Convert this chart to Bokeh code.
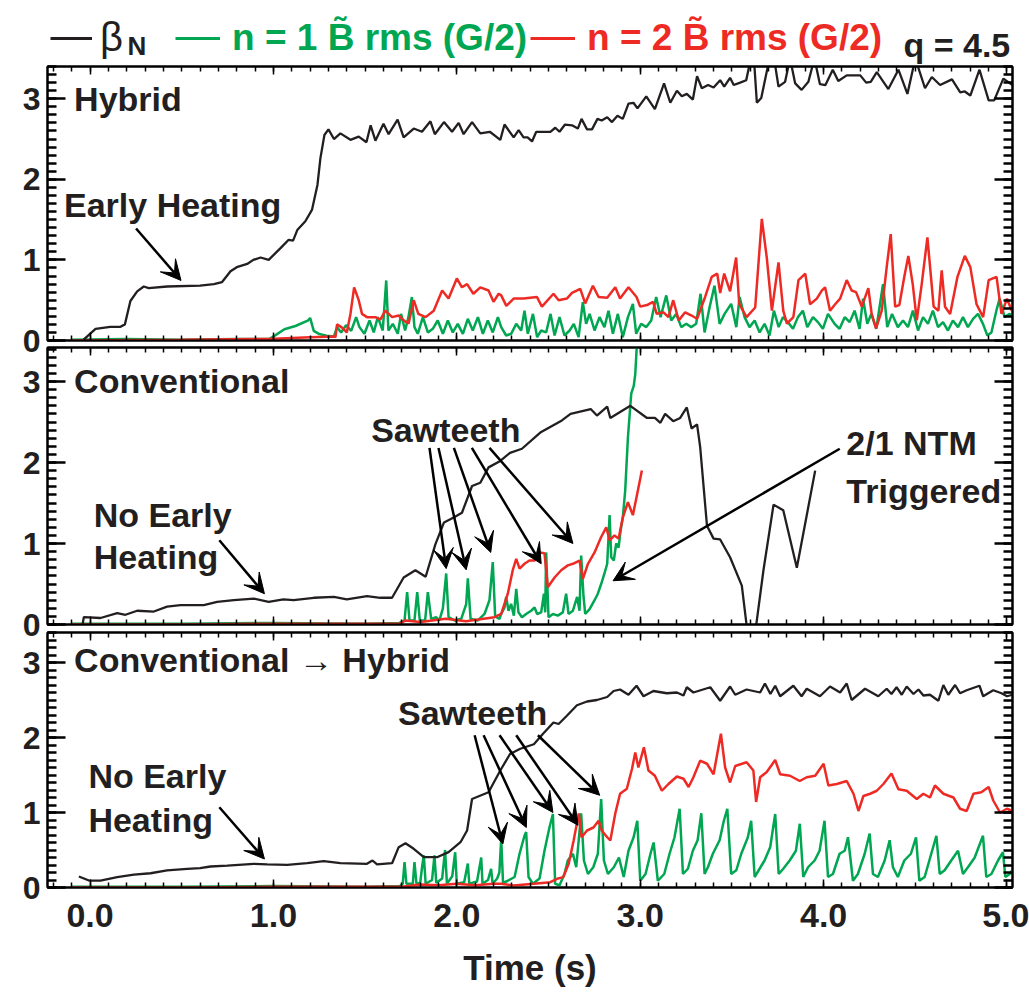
from bokeh.plotting import figure
from bokeh.layouts import column
from bokeh.models import (Range1d, LinearAxis, SingleIntervalTicker, NumeralTickFormatter,
                          CustomJSTickFormatter, Label, Arrow, VeeHead, Legend, LegendItem)
from bokeh.embed import file_html
from bokeh.resources import INLINE

FONT = "Liberation Sans"
BLACK = "#231F20"
GREEN = "#00A651"
RED = "#EE2A24"
NAN = float("nan")

# ---------------- Panel 1 : Hybrid ----------------
hyb_beta_t = [-0.035, 0.03, 0.11, 0.166, 0.19, 0.22, 0.257, 0.293, 0.32, 0.42, 0.60, 0.675, 0.72, 0.766,
              0.80, 0.857, 0.89, 0.93, 0.974, 1.04, 1.083, 1.107, 1.13, 1.174, 1.21, 1.24, 1.256, 1.278,
              1.30, 1.33, 1.365, 1.42, 1.465, 1.507, 1.53, 1.556, 1.60, 1.628, 1.677, 1.71, 1.765, 1.81,
              1.856, 1.88, 1.93, 1.974, 2.01, 2.037, 2.083, 2.128, 2.18,
              2.237, 2.26, 2.31, 2.337, 2.364, 2.386, 2.41, 2.433, 2.51, 2.537, 2.56, 2.59, 2.628, 2.66,
              2.68, 2.71, 2.737, 2.767, 2.79, 2.82, 2.846, 2.876, 2.905, 2.936, 2.963, 2.985, 3.033, 3.08,
              3.13, 3.164, 3.20, 3.227, 3.254, 3.287, 3.31, 3.336, 3.37, 3.40, 3.436, 3.458, 3.49, 3.51,
              3.545, 3.578, 3.603, 3.62, 3.636, 3.66, 3.705, 3.73, 3.754, 3.79, 3.817, 3.845, 3.88, 3.917,
              3.95, 3.98, 4.01, 4.05, 4.08, 4.126, 4.2, 4.232, 4.257, 4.29, 4.353, 4.408, 4.457, 4.50,
              4.553, 4.59, 4.635, 4.70, 4.745, 4.77, 4.80, 4.85, 4.90, 4.93, 4.98, 5.03]
hyb_beta = [0.01, 0.145, 0.17, 0.17, 0.2, 0.49, 0.61, 0.67, 0.65, 0.67, 0.68, 0.70, 0.725, 0.86,
            0.91, 0.95, 1.0, 1.03, 1.0, 1.15, 1.25, 1.24, 1.37, 1.48, 1.62, 1.93, 2.26, 2.55,
            2.62, 2.50, 2.57, 2.49, 2.53, 2.46, 2.67, 2.48, 2.69, 2.56, 2.74, 2.52, 2.63, 2.59,
            2.72, 2.56, 2.71, 2.59, 2.70, 2.56, 2.71, 2.57, 2.59,
            2.49, 2.68, 2.52, 2.61, 2.52, 2.52, 2.47, 2.59, 2.59, 2.64, 2.59, 2.68, 2.67, 2.63,
            2.75, 2.62, 2.62, 2.75, 2.73, 2.77, 2.71, 2.79, 2.75, 2.94, 2.95, 2.88, 3.03, 2.87,
            3.19, 2.95, 3.10, 3.03, 3.06, 2.99, 3.28, 3.13, 3.17, 3.14, 3.23, 3.15, 3.26, 3.17,
            3.20, 3.23, 3.5, 3.5, 2.95, 3.01, 3.5, 3.5, 3.15, 3.21, 3.5, 3.19, 3.11, 3.21,
            3.5, 3.18, 3.17, 3.36, 3.22, 3.29, 3.29, 3.20, 3.21, 3.33, 3.12, 3.36, 3.06, 3.5,
            3.13, 3.27, 3.17, 3.24, 3.08, 3.09, 3.04, 3.36, 2.98, 2.98, 3.25, 3.17]

hyb_n1_t = [-0.10, 0.2, 0.5, 0.8, 0.98, 1.06, 1.12, 1.19, 1.20, 1.22, 1.25, 1.29, 1.33,
            1.347, 1.369, 1.396, 1.424, 1.451, 1.469, 1.496, 1.524, 1.547, 1.569, 1.596, 1.615, 1.627,
            1.651, 1.678, 1.696, 1.718, 1.736, 1.755, 1.769, 1.787, 1.815, 1.842, 1.869, 1.896, 1.924,
            1.951, 1.978, 2.005, 2.033, 2.06, 2.087, 2.115, 2.142, 2.169, 2.196, 2.224,
            2.242, 2.269, 2.296, 2.324, 2.351, 2.369, 2.387, 2.415, 2.438, 2.46, 2.487, 2.511, 2.533,
            2.56, 2.587, 2.615, 2.638, 2.664, 2.687, 2.705, 2.724, 2.751, 2.778, 2.805, 2.827, 2.851,
            2.878, 2.905, 2.933, 2.96, 2.978, 3.005, 3.033, 3.06, 3.087, 3.111, 3.142, 3.169, 3.196,
            3.224, 3.251, 3.278, 3.305, 3.329, 3.351, 3.378, 3.405, 3.433, 3.46, 3.496, 3.524, 3.542,
            3.569, 3.596, 3.624, 3.651, 3.678, 3.705, 3.729, 3.755, 3.778, 3.805, 3.833, 3.86, 3.887,
            3.911, 3.942, 3.969, 3.996, 4.024, 4.06, 4.087, 4.115, 4.142, 4.169, 4.196, 4.215, 4.238,
            4.26, 4.287, 4.324, 4.347, 4.373, 4.405, 4.433, 4.46, 4.487, 4.515, 4.542, 4.569, 4.596,
            4.624, 4.651, 4.678, 4.705, 4.733, 4.76, 4.787, 4.815, 4.842, 4.869, 4.893, 4.915, 4.942,
            4.96, 4.987, 5.015, 5.033]
hyb_n1 = [0.01, 0.02, 0.01, 0.02, 0.02, 0.14, 0.18, 0.25, 0.28, 0.12, 0.08, 0.06, 0.05,
          0.166, 0.10, 0.19, 0.12, 0.29, 0.166, 0.083, 0.248, 0.10, 0.29, 0.124, 0.745, 0.124,
          0.207, 0.083, 0.33, 0.124, 0.29, 0.54, 0.166, 0.083, 0.29, 0.10, 0.145, 0.248, 0.083,
          0.248, 0.10, 0.207, 0.083, 0.269, 0.124, 0.29, 0.083, 0.248, 0.10, 0.29,
          0.166, 0.062, 0.083, 0.207, 0.124, 0.37, 0.083, 0.33, 0.041, 0.124, 0.10, 0.33, 0.062,
          0.29, 0.062, 0.124, 0.207, 0.041, 0.476, 0.207, 0.33, 0.124, 0.29, 0.166, 0.37, 0.083,
          0.33, 0.041, 0.29, 0.455, 0.083, 0.207, 0.166, 0.248, 0.54, 0.29, 0.56, 0.248, 0.33,
          0.166, 0.207, 0.166, 0.207, 0.58, 0.10, 0.41, 0.68, 0.207, 0.33, 0.455, 0.166, 0.54,
          0.29, 0.166, 0.248, 0.10, 0.207, 0.062, 0.37, 0.166, 0.29, 0.228, 0.145, 0.29, 0.37,
          0.166, 0.29, 0.228, 0.145, 0.33, 0.207, 0.145, 0.29, 0.228, 0.37, 0.145, 0.52, 0.207,
          0.33, 0.145, 0.70, 0.166, 0.33, 0.166, 0.248, 0.166, 0.37, 0.124, 0.29, 0.207, 0.37,
          0.166, 0.228, 0.124, 0.248, 0.166, 0.29, 0.166, 0.269, 0.33, 0.207, 0.062, 0.10, 0.37,
          0.52, 0.29, 0.33, 0.29]

hyb_n2_t = [-0.10, 0.5, 0.97, 1.2, 1.33, 1.338, 1.347, 1.374, 1.40, 1.42, 1.44, 1.465, 1.483, 1.51,
            1.556, 1.583, 1.61, 1.647, 1.683, 1.71, 1.737, 1.765, 1.79, 1.83, 1.874, 1.92, 1.955,
            2.0, 2.028, 2.056, 2.09, 2.128, 2.173, 2.20, 2.228,
            2.242, 2.27, 2.31, 2.364, 2.437, 2.464, 2.527, 2.555, 2.60, 2.628, 2.673, 2.70, 2.742,
            2.773, 2.82, 2.864, 2.89, 2.936, 2.98, 3.0, 3.037, 3.07, 3.09, 3.127, 3.154, 3.18, 3.21,
            3.245, 3.28, 3.31, 3.354, 3.39, 3.42, 3.436, 3.458, 3.49, 3.523, 3.54, 3.58, 3.627,
            3.663, 3.69, 3.718, 3.754, 3.78, 3.80, 3.835, 3.863, 3.90, 3.926, 3.963, 3.99, 4.008,
            4.035, 4.063, 4.09, 4.126, 4.153, 4.177, 4.208, 4.244, 4.262, 4.286, 4.317, 4.344,
            4.366, 4.39, 4.413, 4.44, 4.462, 4.486, 4.508, 4.535, 4.566, 4.60, 4.626, 4.644, 4.662,
            4.69, 4.73, 4.77, 4.80, 4.834, 4.87, 4.90, 4.943, 4.97, 5.0, 5.026]
hyb_n2 = [0.0, 0.01, 0.02, 0.04, 0.05, 0.04, 0.2, 0.16, 0.10, 0.33, 0.66, 0.50, 0.33, 0.29,
          0.29, 0.26, 0.37, 0.29, 0.31, 0.25, 0.21, 0.50, 0.33, 0.29, 0.37, 0.62, 0.52,
          0.77, 0.66, 0.70, 0.58, 0.66, 0.62, 0.48, 0.58,
          0.56, 0.43, 0.52, 0.52, 0.54, 0.42, 0.58, 0.50, 0.52, 0.59, 0.64, 0.46, 0.68,
          0.54, 0.53, 0.66, 0.52, 0.66, 0.54, 0.42, 0.44, 0.48, 0.33, 0.35, 0.29, 0.50, 0.25,
          0.35, 0.31, 0.27, 0.54, 0.79, 0.83, 0.59, 0.83, 0.61, 1.03, 0.45, 0.29, 0.41,
          1.51, 1.03, 0.37, 0.97, 0.37, 0.21, 0.29, 0.75, 0.83, 0.45, 0.52, 0.62, 0.66,
          0.37, 0.45, 0.52, 0.75, 0.62, 0.60, 0.42, 0.65, 0.33, 0.15, 0.37, 0.91,
          1.32, 0.42, 0.44, 0.79, 1.05, 0.70, 0.25, 0.70, 1.28, 0.42, 0.37, 0.87, 0.42,
          0.33, 0.79, 1.05, 0.91, 0.45, 0.29, 0.75, 0.79, 0.33, 0.52, 0.37]

# ---------------- Panel 2 : Conventional ----------------
con_beta_t = [-0.04, -0.034, 0.057, 0.148, 0.193, 0.257, 0.348, 0.42, 0.493, 0.62, 0.693, 0.784, 0.893,
              0.974, 1.054, 1.11, 1.22, 1.33, 1.40, 1.51, 1.583, 1.647, 1.71, 1.774, 1.83, 1.883, 1.93,
              1.983, 2.028, 2.083, 2.128, 2.173, 2.237, 2.29, 2.355, 2.455, 2.573, 2.62, 2.73, 2.764,
              2.82, 2.837, 2.946, 3.037, 3.08, 3.11, 3.136, 3.18, 3.218, 3.254, 3.28, 3.31, 3.327,
              3.364, 3.40, 3.436, 3.49, 3.554, 3.585, 3.627, 3.672, 3.727, 3.78, 3.854, 3.954]
con_beta = [0.01, 0.09, 0.08, 0.14, 0.12, 0.17, 0.16, 0.22, 0.24, 0.24, 0.28, 0.30, 0.32,
            0.28, 0.31, 0.30, 0.33, 0.34, 0.31, 0.35, 0.33, 0.33, 0.58, 0.67, 0.59, 0.99, 1.26,
            1.32, 1.38, 1.71, 1.75, 1.94, 2.02, 2.12, 2.17, 2.37, 2.52, 2.60, 2.66, 2.58,
            2.69, 2.55, 2.70, 2.55, 2.55, 2.49, 2.60, 2.51, 2.55, 2.68, 2.42, 2.47, 2.19,
            1.22, 1.06, 1.05, 0.83, 0.48, -0.1, -0.1, 0.67, 1.48, 1.41, 0.70, 1.90]

con_n1_t = [-0.10, 0.5, 1.0, 1.5, 1.687, 1.715, 1.729, 1.742, 1.769, 1.784, 1.798, 1.827, 1.842, 1.86,
            1.887, 1.905, 1.924, 1.942, 1.955, 1.987, 2.024, 2.051, 2.06, 2.075, 2.115, 2.151, 2.178,
            2.196, 2.209, 2.233, 2.242, 2.26, 2.269, 2.282, 2.296, 2.311, 2.324, 2.336, 2.355, 2.378,
            2.405, 2.424, 2.438, 2.46, 2.475, 2.482, 2.487, 2.5, 2.524, 2.551, 2.578, 2.596, 2.609,
            2.633, 2.656, 2.669, 2.678, 2.691, 2.7, 2.724, 2.751, 2.769, 2.787, 2.805, 2.82, 2.833,
            2.842, 2.856, 2.869, 2.882, 2.893, 2.905, 2.918, 2.933, 2.951, 2.965, 2.973, 2.982, 2.991]
con_n1 = [0.01, 0.01, 0.02, 0.01, 0.02, 0.05, 0.40, 0.05, 0.05, 0.40, 0.05, 0.05, 0.40, 0.07,
          0.09, 0.05, 0.20, 0.63, 0.09, 0.05, 0.07, 0.25, 0.57, 0.07, 0.05, 0.13, 0.30,
          0.77, 0.10, 0.07, 0.13, 0.21, 0.34, 0.17, 0.255, 0.11, 0.44, 0.15, 0.09, 0.13,
          0.17, 0.21, 0.13, 0.15, 0.38, 0.15, 0.89, 0.09, 0.13, 0.11, 0.15, 0.38, 0.13,
          0.17, 0.34, 0.17, 0.85, 0.34, 0.13, 0.19, 0.30, 0.38, 0.50, 0.63, 0.75, 1.35,
          0.83, 0.79, 1.0, 0.95, 1.16, 1.32, 1.65, 2.31, 2.85, 2.95, 3.09, 3.47, 3.6]

con_n2_t = [-0.10, 0.5, 1.0, 1.69, 1.72, 1.8, 1.94, 2.05, 2.205, 2.242, 2.278, 2.305, 2.324, 2.342,
            2.369, 2.396, 2.424, 2.451, 2.478, 2.496, 2.533, 2.569, 2.605, 2.633, 2.669, 2.687,
            2.715, 2.751, 2.787, 2.815, 2.833, 2.86, 2.882, 2.905, 2.933, 2.96, 2.987, 3.009]
con_n2 = [0.0, 0.0, 0.01, 0.01, 0.05, 0.03, 0.07, 0.04, 0.09, 0.13, 0.38, 0.67, 0.81, 0.69,
          0.75, 0.79, 0.79, 0.89, 0.88, 0.46, 0.58, 0.67, 0.73, 0.75, 0.79, 0.56,
          0.75, 0.89, 1.08, 1.20, 1.04, 1.10, 1.06, 1.32, 1.51, 1.35, 1.65, 1.90]

# ---------------- Panel 3 : Conventional -> Hybrid ----------------
c2h_beta_t = [-0.061, -0.006, 0.057, 0.148, 0.239, 0.33, 0.42, 0.53, 0.60, 0.657, 0.748, 0.893, 0.966,
              1.075, 1.184, 1.274, 1.365, 1.51, 1.54, 1.565, 1.647, 1.683, 1.72, 1.765, 1.82, 1.892,
              1.955, 2.02, 2.056, 2.083, 2.173, 2.237, 2.29, 2.346, 2.42, 2.47, 2.527, 2.555, 2.60,
              2.655, 2.71, 2.764, 2.82, 2.855, 2.89, 2.936, 2.98, 3.018, 3.072, 3.145, 3.20, 3.236,
              3.254, 3.29, 3.382, 3.436, 3.49, 3.518, 3.58, 3.654, 3.68, 3.71, 3.736, 3.763, 3.835,
              3.88, 3.908, 3.98, 4.035, 4.09, 4.126, 4.153, 4.226, 4.298, 4.344, 4.37, 4.398, 4.426,
              4.453, 4.49, 4.517, 4.544, 4.58, 4.626, 4.653, 4.68, 4.717, 4.744, 4.78, 4.85, 4.87,
              4.925, 4.97, 5.0, 5.03]
c2h_beta = [0.147, 0.093, 0.093, 0.137, 0.173, 0.19, 0.227, 0.249, 0.258, 0.28, 0.293, 0.316, 0.307,
            0.302, 0.324, 0.351, 0.324, 0.316, 0.36, 0.307, 0.324, 0.538, 0.59, 0.516, 0.404, 0.404,
            0.471, 0.604, 0.76, 1.18, 1.27, 1.56, 1.78, 1.85, 1.91, 2.05, 2.20, 2.18, 2.29,
            2.43, 2.48, 2.50, 2.54, 2.62, 2.64, 2.57, 2.69, 2.55, 2.62, 2.59, 2.60, 2.56,
            2.67, 2.60, 2.67, 2.49, 2.68, 2.57, 2.64, 2.60, 2.72, 2.58, 2.69, 2.55, 2.69,
            2.55, 2.65, 2.55, 2.68, 2.60, 2.72, 2.50, 2.65, 2.55, 2.65, 2.58, 2.67, 2.57,
            2.68, 2.58, 2.64, 2.56, 2.57, 2.49, 2.70, 2.57, 2.70, 2.59, 2.63, 2.69, 2.55,
            2.63, 2.59, 2.55, 2.57]

c2h_n1_t = [-0.10, 0.5, 1.0, 1.5, 1.69, 1.705, 1.715, 1.725, 1.76, 1.769, 1.78, 1.80, 1.812, 1.82,
            1.83, 1.865, 1.878, 1.888, 1.92, 1.936, 1.946, 1.975, 1.991, 2.0, 2.04, 2.06, 2.068,
            2.11, 2.133, 2.14, 2.17, 2.187, 2.195, 2.22, 2.232, 2.242, 2.252, 2.278, 2.315, 2.342,
            2.369, 2.378, 2.391, 2.415, 2.451, 2.478, 2.505, 2.524, 2.536, 2.56, 2.587, 2.605,
            2.633, 2.651, 2.678, 2.693, 2.715, 2.744, 2.769, 2.787, 2.802, 2.824, 2.856, 2.884,
            2.91, 2.936, 2.964, 2.984, 3.0, 3.029, 3.056, 3.073, 3.096, 3.131, 3.16, 3.187, 3.215,
            3.233, 3.26, 3.287, 3.313, 3.333, 3.351, 3.369, 3.396, 3.433, 3.456, 3.475, 3.496,
            3.524, 3.551, 3.587, 3.605, 3.624, 3.651, 3.678, 3.709, 3.736, 3.755, 3.78, 3.815,
            3.849, 3.87, 3.889, 3.915, 3.951, 3.978, 4.005, 4.024, 4.051, 4.087, 4.115, 4.133,
            4.16, 4.187, 4.224, 4.251, 4.269, 4.296, 4.333, 4.36, 4.378, 4.405, 4.44, 4.476,
            4.504, 4.522, 4.551, 4.587, 4.615, 4.633, 4.66, 4.696, 4.733, 4.76, 4.787, 4.824,
            4.869, 4.887, 4.915, 4.951, 4.978, 4.991, 5.015, 5.033]
c2h_n1 = [0.01, 0.01, 0.02, 0.01, 0.02, 0.05, 0.34, 0.05, 0.05, 0.34, 0.05, 0.06, 0.30, 0.43,
          0.05, 0.10, 0.43, 0.06, 0.12, 0.50, 0.05, 0.15, 0.47, 0.05, 0.07, 0.32, 0.05,
          0.08, 0.40, 0.05, 0.10, 0.25, 0.05, 0.12, 0.20, 0.65, 0.06, 0.09, 0.14, 0.45,
          0.69, 0.74, 0.14, 0.05, 0.12, 0.49, 0.80, 0.98, 0.05, 0.03, 0.18, 0.36,
          0.45, 0.27, 0.99, 0.36, 0.18, 0.27, 0.45, 1.18, 0.36, 0.18, 0.27, 0.40,
          0.14, 0.49, 0.67, 0.89, 0.09, 0.18, 0.45, 0.60, 0.09, 0.18, 0.45, 0.67, 1.05,
          0.18, 0.25, 0.49, 0.63, 0.99, 0.18, 0.27, 0.45, 0.63, 0.89, 1.05, 0.18,
          0.23, 0.45, 0.67, 0.89, 0.14, 0.25, 0.36, 0.54, 0.98, 0.18, 0.25, 0.36,
          0.49, 0.85, 0.14, 0.27, 0.36, 0.49, 0.89, 0.14, 0.18, 0.45, 0.49, 0.67,
          0.09, 0.18, 0.45, 0.72, 0.18, 0.14, 0.36, 0.63, 0.27, 0.14, 0.36, 0.45,
          0.67, 0.09, 0.14, 0.45, 0.69, 0.18, 0.23, 0.36, 0.49, 0.18, 0.27, 0.40,
          0.69, 0.14, 0.18, 0.36, 0.47, 0.14, 0.18, 0.25]

c2h_n2_t = [-0.10, 0.5, 1.0, 1.70, 1.8, 1.9, 2.0, 2.1, 2.2, 2.242, 2.31, 2.42, 2.51, 2.547, 2.58,
            2.61, 2.637, 2.665, 2.68, 2.71, 2.745, 2.773, 2.79, 2.82, 2.837, 2.864, 2.89, 2.927,
            2.955, 2.973, 2.99, 3.02, 3.045, 3.08, 3.118, 3.154, 3.20, 3.236, 3.264, 3.29, 3.327,
            3.364, 3.40, 3.42, 3.44, 3.463, 3.49, 3.518, 3.58, 3.617, 3.632, 3.654, 3.69, 3.736,
            3.763, 3.817, 3.87, 3.908, 3.954, 4.0, 4.026, 4.072, 4.126, 4.163, 4.19, 4.217, 4.254,
            4.29, 4.326, 4.37, 4.408, 4.453, 4.508, 4.544, 4.58, 4.607, 4.653, 4.708, 4.744, 4.78,
            4.817, 4.86, 4.90, 4.925, 4.962, 5.0, 5.027]
c2h_n2 = [0.0, 0.0, 0.01, 0.01, 0.04, 0.03, 0.05, 0.03, 0.05, 0.049, 0.027, 0.049, 0.071, 0.116, 0.138,
          0.316, 0.627, 0.987, 0.67, 0.76, 0.80, 0.89, 0.76, 0.67, 0.627, 0.987, 1.249, 1.316,
          1.58, 1.80, 1.60, 1.87, 1.56, 1.49, 1.29, 1.38, 1.48, 1.45, 1.34, 1.47, 1.69,
          1.65, 1.51, 1.78, 2.05, 1.60, 1.40, 1.62, 1.67, 1.56, 1.14, 1.47, 1.54, 1.70,
          1.51, 1.49, 1.42, 1.47, 1.49, 1.65, 1.36, 1.38, 1.42, 1.25, 1.02, 1.22, 1.25,
          1.29, 1.38, 1.52, 1.31, 1.29, 1.18, 1.25, 1.20, 1.36, 1.25, 1.20, 1.05, 1.02,
          1.25, 1.27, 1.34, 1.16, 1.0, 1.05, 1.02]

panel_titles = ["Hybrid", "Conventional", "Conventional \u2192 Hybrid"]
legend_texts = ["\u03b2", "n = 1 B\u0303 rms (G/2)", "n = 2 B\u0303 rms (G/2)"]

XR = Range1d(-0.232, 5.03)
EMPTY = CustomJSTickFormatter(code="return ''")
LIFT = 11  # screen-pixel correction of the alphabetic baseline


def make_panel(height, top, bottom, ymax, show_x, shift):
    p = figure(width=1029, height=height, x_range=XR, y_range=Range1d(0, ymax),
               output_backend="svg", toolbar_location=None,
               min_border_left=47, min_border_right=17, min_border_top=top, min_border_bottom=bottom,
               x_axis_location=None, y_axis_location=None)
    p.grid.grid_line_color = None
    p.outline_line_color = "black"
    p.outline_line_width = 2
    p.outline_line_alpha = 1
    if shift:
        p.border_fill_alpha = 0
        p.styles = {"margin-top": "-%dpx" % shift}
    for side in ("left", "right"):
        ax = LinearAxis(ticker=SingleIntervalTicker(interval=1, num_minor_ticks=10))
        ax.major_tick_in = 18
        ax.major_tick_out = 0
        ax.minor_tick_in = 9
        ax.minor_tick_out = 0
        ax.axis_line_width = 2
        ax.major_tick_line_width = 2.5
        ax.minor_tick_line_width = 2.5
        if side == "left":
            ax.major_label_text_font = FONT
            ax.major_label_text_font_style = "bold"
            ax.major_label_text_font_size = "32px"
            ax.major_label_text_color = BLACK
            ax.major_label_standoff = 7
        else:
            ax.formatter = EMPTY
            ax.major_label_standoff = 0
        p.add_layout(ax, side)
    for side in ("above", "below"):
        ax = LinearAxis(ticker=SingleIntervalTicker(interval=1, num_minor_ticks=10))
        ax.major_tick_in = 8
        ax.major_tick_out = 0
        ax.minor_tick_in = 5
        ax.minor_tick_out = 0
        ax.axis_line_width = 2
        ax.major_tick_line_width = 1.5
        ax.minor_tick_line_width = 1.5
        if side == "below" and show_x:
            ax.formatter = NumeralTickFormatter(format="0.0")
            ax.major_label_text_font = FONT
            ax.major_label_text_font_style = "bold"
            ax.major_label_text_font_size = "34px"
            ax.major_label_text_color = BLACK
            ax.major_label_standoff = 16
            ax.axis_label = "Time (s)"
            ax.axis_label_text_font = FONT
            ax.axis_label_text_font_style = "bold"
            ax.axis_label_text_font_size = "35px"
            ax.axis_label_text_color = BLACK
            ax.axis_label_standoff = 18
        else:
            ax.formatter = EMPTY
            ax.major_label_standoff = 0
        p.add_layout(ax, side)
    return p


def text(p, x, y, s, size="34px", color=BLACK, style="bold"):
    p.add_layout(Label(x=x, y=y, text=s, text_font=FONT, text_font_size=size, y_offset=LIFT,
                       text_font_style=style, text_color=color, text_baseline="alphabetic"))


def arrow(p, x0, y0, x1, y1):
    p.add_layout(Arrow(end=VeeHead(size=20, fill_color="black", line_color="black", line_width=1),
                       x_start=x0, y_start=y0, x_end=x1, y_end=y1,
                       line_color="black", line_width=2.5))


def series(p, t1, n1, t2, n2, tb, b):
    p.line(t1, n1, line_color=GREEN, line_width=2.5)
    p.line(t2, n2, line_color=RED, line_width=2.5)
    p.line(tb, b, line_color=BLACK, line_width=2.3)


# legend strip on top (own canvas; x and y in pixels, y measured downward)
p0 = figure(width=1029, height=64, x_range=Range1d(47, 1012), y_range=Range1d(64, 0),
            output_backend="svg", toolbar_location=None, min_border_left=47, min_border_right=17,
            min_border_top=0, min_border_bottom=0, x_axis_location=None, y_axis_location=None)
p0.grid.grid_line_color = None
p0.outline_line_color = None
key_b = p0.line([NAN], [NAN], line_color=BLACK, line_width=3)
key_g = p0.line([NAN], [NAN], line_color=GREEN, line_width=3)
key_r = p0.line([NAN], [NAN], line_color=RED, line_width=3)
leg_specs = [(legend_texts[0], key_b, BLACK, 3, "40px", "normal", 42, 8),
             (legend_texts[1], key_g, GREEN, 128, "37px", "bold", 45, 12),
             (legend_texts[2], key_r, RED, 483, "37px", "bold", 45, 12)]
for lab, r, col, x0, fs, st, gw, so in leg_specs:
    p0.add_layout(Legend(items=[LegendItem(label=lab, renderers=[r])], location=(x0, 4),
                         orientation="horizontal", border_line_alpha=0, background_fill_alpha=0,
                         padding=0, margin=0, spacing=0, glyph_width=gw, glyph_height=44,
                         label_standoff=so, label_text_font=FONT, label_text_font_size=fs,
                         label_text_font_style=st, label_text_color=col))
text(p0, 127, 56, "N", size="26px")
text(p0, 903, 55, "q = 4.5", size="34px")

p1 = make_panel(296, 2, 20, 3.40, False, 0)
p2 = make_panel(304, 7, 20, 3.42, False, 20)
p3 = make_panel(373, 8, 110, 3.40, True, 20)

series(p1, hyb_n1_t, hyb_n1, hyb_n2_t, hyb_n2, hyb_beta_t, hyb_beta)
series(p2, con_n1_t, con_n1, con_n2_t, con_n2, con_beta_t, con_beta)
series(p3, c2h_n1_t, c2h_n1, c2h_n2_t, c2h_n2, c2h_beta_t, c2h_beta)

text(p1, -0.087, 2.86, panel_titles[0])
text(p2, -0.087, 2.87, panel_titles[1])
text(p3, -0.087, 2.89, panel_titles[2])

# panel 1 annotations
text(p1, -0.142, 1.55, "Early Heating")
arrow(p1, 0.251, 1.39, 0.496, 0.745)

# panel 2 annotations
text(p2, 0.02, 1.22, "No Early")
text(p2, 0.02, 0.70, "Heating")
arrow(p2, 0.705, 1.04, 0.951, 0.38)
text(p2, 1.533, 2.27, "Sawteeth")
saw2_start = [1.851, 1.90, 1.984, 2.082, 2.178]
saw2_end = [(1.942, 0.69), (2.051, 0.675), (2.185, 0.89), (2.46, 0.75), (2.633, 1.0)]
for xs, (xe, ye) in zip(saw2_start, saw2_end):
    arrow(p2, xs, 2.18, xe, ye)
text(p2, 4.124, 2.10, "2/1 NTM")
text(p2, 4.124, 1.51, "Triggered")
arrow(p2, 4.088, 2.17, 2.852, 0.54)

# panel 3 annotations
text(p3, -0.009, 1.34, "No Early")
text(p3, -0.009, 0.76, "Heating")
arrow(p3, 0.705, 1.07, 0.951, 0.38)
text(p3, 1.679, 2.18, "Sawteeth")
saw3_start = [2.097, 2.146, 2.233, 2.324, 2.442]
saw3_end = [(2.251, 0.58), (2.379, 0.80), (2.524, 1.0), (2.661, 0.83), (2.779, 1.23)]
for xs, (xe, ye) in zip(saw3_start, saw3_end):
    arrow(p3, xs, 2.03, xe, ye)

layout = column(p0, p1, p2, p3, spacing=0)
open("out.html", "w").write(file_html(layout, INLINE))
